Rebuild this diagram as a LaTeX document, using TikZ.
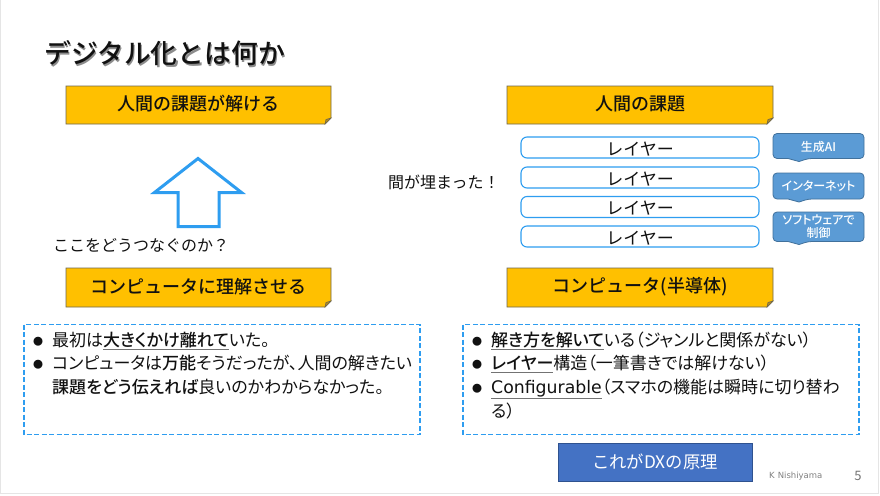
\documentclass[tikz,border=0pt]{standalone}
\usepackage{fontspec}
\setmainfont{Noto Sans CJK JP}
\newfontfamily\medfont{Noto Sans CJK JP Medium}
\newfontfamily\pfont[RawFeature=+palt,BoldFont={Noto Sans CJK JP Medium}]{Noto Sans CJK JP}
\newfontfamily\pmed[RawFeature=+palt]{Noto Sans CJK JP Medium}
\newfontfamily\wide{DejaVu Sans}
\definecolor{amber}{HTML}{FFC000}
\definecolor{amberedge}{HTML}{6E6750}
\definecolor{foldc}{HTML}{B08A20}
\definecolor{skyline}{HTML}{2E9DF0}
\definecolor{calloutc}{HTML}{5B9BD5}
\definecolor{calloutedge}{HTML}{41719C}
\definecolor{dxblue}{HTML}{4472C4}
\definecolor{dxedge}{HTML}{2F528F}
\definecolor{txt}{HTML}{111111}
\newcommand{\bd}[1]{{\bfseries #1}}
\newcommand{\bu}[1]{{\color{black!55}\underline{\color{txt}\bfseries #1}}}
\newcommand{\dotmark}{\makebox[20pt][l]{\hspace{1pt}\raisebox{1pt}{\fontsize{10}{10}\selectfont\medfont ●}}}
\newcommand{\notebox}[6]{%
  \path[draw=amberedge,fill=amber,line width=0.9pt] (#1,#2) -- (#3,#2) -- (#3,#4-6) -- (#3-6,#4) -- (#1,#4) -- cycle;
  \path[draw=amberedge,fill=foldc,line width=0.6pt] (#3,#4-6) -- (#3-5,#4-4.5) -- (#3-6,#4) -- cycle;
  \node[boxtext] (#5) at ({(#1+#3)/2},{(#2+#4)/2-1}) {#6};}
\newcommand{\callout}[7]{%
  \path[draw=calloutedge,fill=calloutc,line width=0.8pt,rounded corners=4pt] (#1,#2) -- (#3,#2) -- (#3,#4) -- (#1+35,#4) [sharp corners] -- (#1+26,#4+3) -- (#1+15,#4) [rounded corners=4pt] -- (#1,#4) -- cycle;
  \node[calltext] (#6) at ({(#1+#3)/2},#5) {#7};}
\tikzset{
  x=1pt,y=-1pt,
  boxtext/.style={text=txt,font=\fontsize{18}{22}\selectfont\medfont,inner sep=0pt},
  layerbox/.style={draw=skyline,fill=white,line width=1.1pt,rounded corners=6pt,minimum width=238pt,minimum height=21pt,inner sep=0pt,text=txt,font=\fontsize{17}{20}\selectfont},
  calltext/.style={text=white,font=\fontsize{12}{15}\selectfont\pmed,align=center,inner sep=0pt},
  plaintext/.style={text=txt,font=\fontsize{16}{20}\selectfont,inner sep=0pt,anchor=west},
  bodytext/.style={text=txt,font=\fontsize{17}{23.7}\selectfont\pfont,inner sep=0pt,anchor=north west,align=left},
  dashbox/.style={draw=skyline,line width=1.5pt,dash pattern=on 5pt off 2.5pt},
}
\begin{document}
\begin{tikzpicture}
\useasboundingbox (0,0) rectangle (880,495);
\fill[white] (0,0) rectangle (880,495);
\draw[black!10,line width=1pt] (0.5,-1) -- (0.5,493.5) -- (878.5,493.5) -- (878.5,-1);
% title
\node[text=black!45,font=\fontsize{26.8}{30}\selectfont\medfont,inner sep=0pt,anchor=west] (titleshadow) at (45.5,55) {デジタル化とは何か};
\node[text=txt,font=\fontsize{26.8}{30}\selectfont\medfont,inner sep=0pt,anchor=west] (title) at (44,53.5) {デジタル化とは何か};
% amber notes
\notebox{66}{86}{331}{124}{humansolved}{人間の課題が解ける}
\notebox{507}{86}{773}{124}{humantask}{人間の課題}
\notebox{66}{268}{331}{307}{computerunderstand}{コンピュータに理解させる}
\notebox{507}{268}{773}{307}{computersemi}{コンピュータ(半導体)}
% arrow
\path[draw=skyline,fill=white,line width=3pt,miter limit=10] (198,158.5) -- (241.5,192.5) -- (219,192.5) -- (219,226.5) -- (178,226.5) -- (178,192.5) -- (154.5,192.5) -- cycle;
\node[plaintext] (howconnect) at (53,245.5) {ここをどうつなぐのか？};
\node[plaintext] (filled) at (388,182.5) {間が埋まった！};
% layers
\node[layerbox] (layera) at (640,147.5) {\raisebox{-7.5pt}[0pt][0pt]{レイヤー}};
\node[layerbox] (layerb) at (640,177.5) {\raisebox{-7.5pt}[0pt][0pt]{レイヤー}};
\node[layerbox] (layerc) at (640,207) {\raisebox{-7.5pt}[0pt][0pt]{レイヤー}};
\node[layerbox] (layerd) at (640,236.5) {\raisebox{-7.5pt}[0pt][0pt]{レイヤー}};
% callouts
\callout{773}{133.5}{864}{158.5}{146.5}{gen}{生成AI}
\callout{773}{173}{864}{199}{186.5}{net}{インターネット}
\callout{773}{212}{864}{241.5}{226.5}{soft}{ソフトウェアで\\[-2pt]制御}
% dashed boxes
\draw[dashbox] (24,324.5) rectangle (420,434.5);
\draw[dashbox] (463,324.5) rectangle (859,434.5);
\node[bodytext] (lefttext) at (32,331.5) {%
\dotmark 最初は\bu{大きくかけ離れて}いた。\\
\dotmark コンピュータは\bd{万能}そうだったが、人間の解きたい\\
\makebox[20pt][l]{}\bd{課題をどう伝えれば}良いのかわからなかった。};
\node[bodytext] (righttext) at (471,331.5) {%
\dotmark\bu{解き方を解いて}いる（ジャンルと関係がない）\\
\dotmark\bu{レイヤー}構造（一筆書きでは解けない）\\
\dotmark\bu{{\wide\mdseries\fontsize{17.3}{23.7}\selectfont Configurable}}（スマホの機能は瞬時に切り替わ\\
\makebox[20pt][l]{}る）};
% DX box
\node[draw=dxedge,fill=dxblue,line width=0.8pt,minimum width=194pt,minimum height=38pt,inner sep=0pt,text=white,font=\fontsize{17.3}{20}\selectfont] (dx) at (655,462) {これがDXの原理};
% footer
\node[text=black!50,font=\fontsize{8.5}{10}\selectfont\wide,inner sep=0pt,anchor=west] (author) at (769,476) {K\hspace{3pt}Nishiyama};
\node[text=black!55,font=\fontsize{13}{14}\selectfont,inner sep=0pt] (page) at (858,476) {5};
\end{tikzpicture}
\end{document}
